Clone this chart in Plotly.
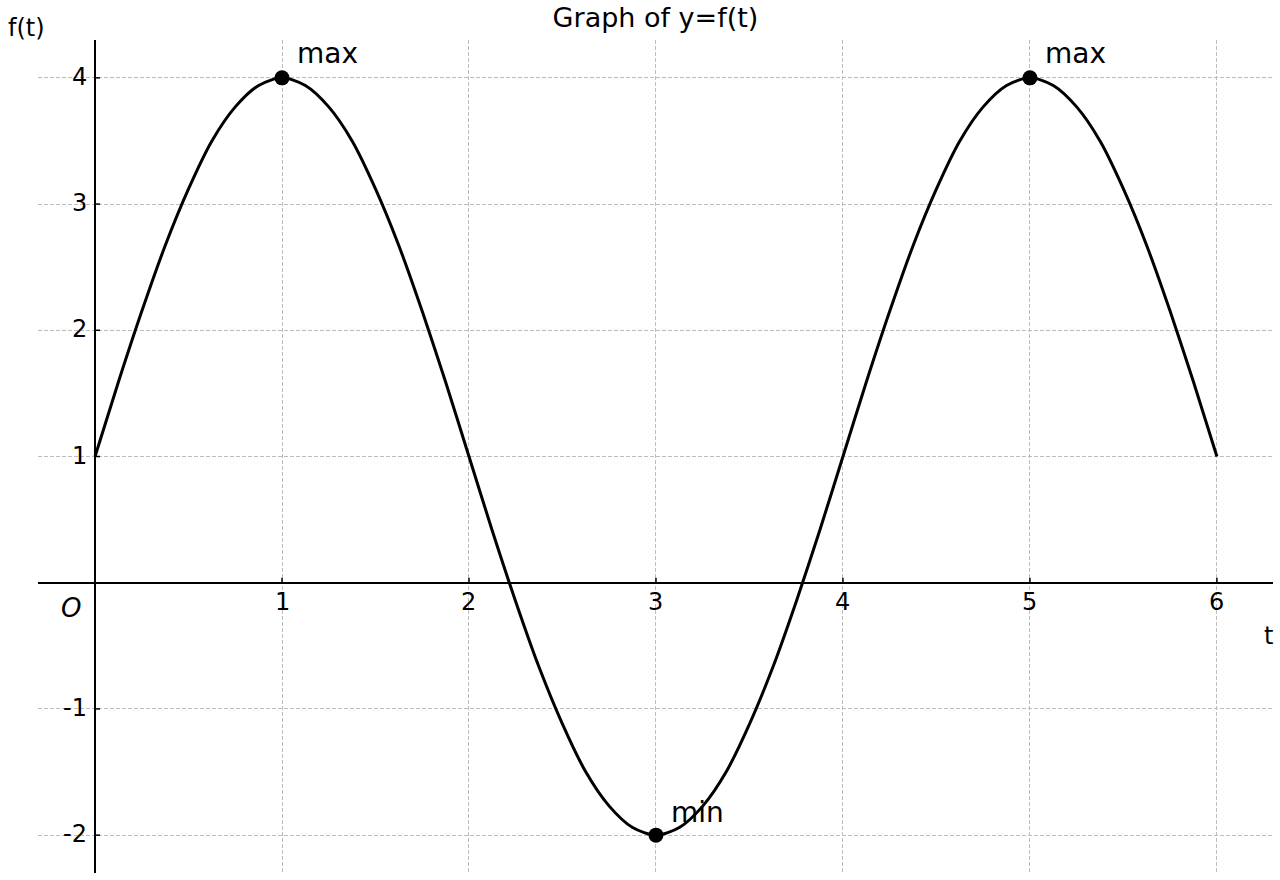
import plotly.graph_objects as go

# ---- data ----
t_values = [0, 0.125, 0.25, 0.375, 0.5, 0.625, 0.75, 0.875, 1,
            1.125, 1.25, 1.375, 1.5, 1.625, 1.75, 1.875, 2,
            2.125, 2.25, 2.375, 2.5, 2.625, 2.75, 2.875, 3,
            3.125, 3.25, 3.375, 3.5, 3.625, 3.75, 3.875, 4,
            4.125, 4.25, 4.375, 4.5, 4.625, 4.75, 4.875, 5,
            5.125, 5.25, 5.375, 5.5, 5.625, 5.75, 5.875, 6]
f_values = [1, 1.59, 2.15, 2.67, 3.12, 3.5, 3.77, 3.94, 4,
            3.94, 3.77, 3.5, 3.12, 2.67, 2.15, 1.59, 1,
            0.41, -0.15, -0.67, -1.12, -1.5, -1.77, -1.94, -2,
            -1.94, -1.77, -1.5, -1.12, -0.67, -0.15, 0.41, 1,
            1.59, 2.15, 2.67, 3.12, 3.5, 3.77, 3.94, 4,
            3.94, 3.77, 3.5, 3.12, 2.67, 2.15, 1.59, 1]

extrema_t = [1, 3, 5]
extrema_f = [4, -2, 4]
extrema_labels = ["max", "min", "max"]

x_ticks = [1, 2, 3, 4, 5, 6]
x_tick_labels = ["1", "2", "3", "4", "5", "6"]
y_ticks = [-2, -1, 1, 2, 3, 4]
y_tick_labels = ["-2", "-1", "1", "2", "3", "4"]

title_text = "Graph of y=f(t)"
x_label = "t"
y_label = "f(t)"
origin_label = "O"

FONT = "DejaVu Sans"

fig = go.Figure()

fig.add_trace(go.Scatter(
    x=t_values, y=f_values, mode="lines",
    line=dict(color="black", width=3, shape="spline", smoothing=0.8),
    hoverinfo="skip", showlegend=False))

fig.add_trace(go.Scatter(
    x=extrema_t, y=extrema_f, mode="markers",
    marker=dict(color="black", size=15),
    hoverinfo="skip", showlegend=False))

annotations = []
# extrema labels
for tx, fy, lab in zip(extrema_t, extrema_f, extrema_labels):
    annotations.append(dict(x=tx, y=fy, xref="x", yref="y", text=lab,
                            showarrow=False, xanchor="left", yanchor="bottom",
                            xshift=13, yshift=6 if fy > 0 else 4,
                            font=dict(family=FONT, size=28, color="black")))
# x tick labels (at the spine)
for xv, lab in zip(x_ticks, x_tick_labels):
    annotations.append(dict(x=xv, y=0, xref="x", yref="y", text=lab,
                            showarrow=False, xanchor="center", yanchor="top",
                            yshift=-3,
                            font=dict(family=FONT, size=24, color="black")))
# y tick labels
for yv, lab in zip(y_ticks, y_tick_labels):
    annotations.append(dict(x=0, y=yv, xref="x", yref="y", text=lab,
                            showarrow=False, xanchor="right", yanchor="middle",
                            xshift=-6, yshift=1,
                            font=dict(family=FONT, size=24, color="black")))
# origin
annotations.append(dict(x=0, y=0, xref="x", yref="y", text="<i>" + origin_label + "</i>",
                        showarrow=False, xanchor="right", yanchor="top",
                        xshift=-12, yshift=-8,
                        font=dict(family=FONT, size=26, color="black")))
# axis names
annotations.append(dict(x=1, y=0, xref="paper", yref="y", text=x_label,
                        showarrow=False, xanchor="right", yanchor="top",
                        xshift=2, yshift=-37,
                        font=dict(family=FONT, size=24, color="black")))
annotations.append(dict(x=0, y=1, xref="paper", yref="paper", text=y_label,
                        showarrow=False, xanchor="center", yanchor="bottom",
                        xshift=-12, yshift=-4,
                        font=dict(family=FONT, size=24, color="black")))

# inward tick marks on the spines
shapes = []
for xv in x_ticks:
    shapes.append(dict(type="line", xref="x", yref="y", x0=xv, x1=xv,
                       ysizemode="pixel", yanchor=0, y0=0, y1=5,
                       line=dict(color="black", width=1.5)))
for yv in y_ticks:
    shapes.append(dict(type="line", xref="x", yref="y", y0=yv, y1=yv,
                       xsizemode="pixel", xanchor=0, x0=0, x1=5,
                       line=dict(color="black", width=1.5)))

fig.update_layout(
    width=1280, height=880,
    margin=dict(l=38, r=7, t=40, b=7),
    paper_bgcolor="white", plot_bgcolor="white",
    title=dict(text=title_text, xref="paper", x=0.5, xanchor="center",
               y=1 - 18 / 880, yanchor="middle",
               font=dict(family=FONT, size=27, color="black")),
    annotations=annotations,
    shapes=shapes,
    font=dict(family=FONT),
)
fig.update_xaxes(range=[-0.305, 6.3], tickmode="array", tickvals=x_ticks,
                 showticklabels=False, ticks="", showline=False,
                 showgrid=True, gridcolor="#bdbdbd", gridwidth=1, griddash="4px,2px",
                 zeroline=True, zerolinecolor="black", zerolinewidth=2)
fig.update_yaxes(range=[-2.3, 4.3], tickmode="array", tickvals=y_ticks,
                 showticklabels=False, ticks="", showline=False,
                 showgrid=True, gridcolor="#bdbdbd", gridwidth=1, griddash="4px,2px",
                 zeroline=True, zerolinecolor="black", zerolinewidth=2)

fig.write_html("out.html")
